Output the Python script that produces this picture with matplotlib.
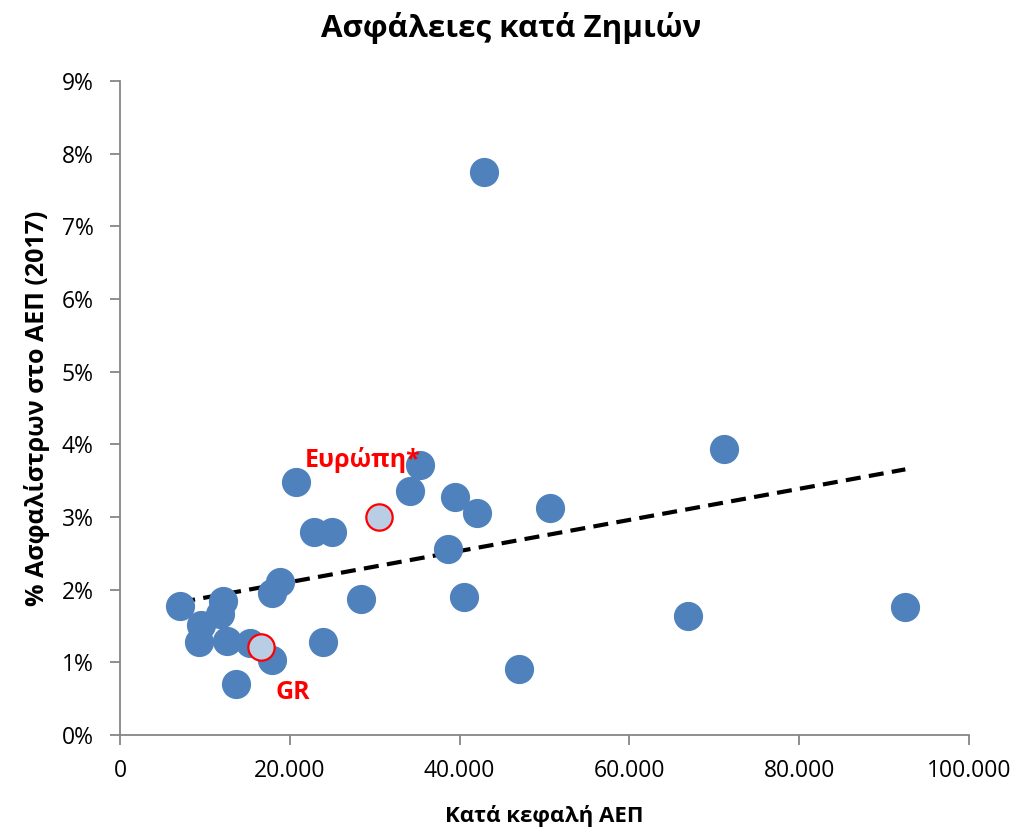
import numpy as np
import matplotlib.pyplot as plt
from matplotlib.ticker import FuncFormatter

plt.rcParams['font.family'] = ['Open Sans', 'DejaVu Sans']

# per-capita GDP (EUR) and premiums as % of GDP
gdp = [7100, 9500, 9300, 12100, 11800, 12600, 13700, 15300, 17900, 17900,
       18800, 20700, 22800, 25000, 23900, 28400, 34200, 35300, 39500, 42000,
       38600, 40500, 47000, 42900, 50600, 66900, 71100, 92500]
premium = [1.78, 1.52, 1.28, 1.85, 1.67, 1.30, 0.70, 1.26, 1.03, 1.95,
           2.11, 3.48, 2.79, 2.79, 1.28, 1.87, 3.36, 3.71, 3.28, 3.06,
           2.56, 1.90, 0.91, 7.75, 3.12, 1.64, 3.94, 1.76]

gr = (16600, 1.21)
europe = (30500, 3.00)

fig = plt.figure(figsize=(10.22, 8.27), dpi=100)
ax = fig.add_axes([120/1022, 92/827, 849/1022, 654/827])

ax.scatter(gdp, premium, s=400, color='#4F81BD', edgecolors='#4F81BD', zorder=3)
ax.scatter([gr[0], europe[0]], [gr[1], europe[1]], s=360, color='#B9CDE5',
           edgecolors='red', linewidths=1.6, zorder=4)

# linear trendline over all points
all_x = gdp + [gr[0], europe[0]]
all_y = premium + [gr[1], europe[1]]
coef = np.polyfit(all_x, all_y, 1)
xs = np.array([min(all_x), max(all_x)])
ax.plot(xs, np.polyval(coef, xs), color='black', lw=3, ls=(0, (3.6, 2)), zorder=2)

ax.text(28600, 3.78, 'Ευρώπη*', color='red', fontsize=18,
        fontweight='bold', ha='center', va='center')
ax.text(20400, 0.58, 'GR', color='red', fontsize=18,
        fontweight='bold', ha='center', va='center')

ax.set_xlim(0, 100000)
ax.set_ylim(0, 9)
ax.set_xticks(np.arange(0, 100001, 20000))
ax.set_yticks(np.arange(0, 10, 1))
ax.xaxis.set_major_formatter(FuncFormatter(lambda v, p: f'{int(v):,}'.replace(',', '.')))
ax.yaxis.set_major_formatter(FuncFormatter(lambda v, p: f'{int(v)}%'))

for side in ['top', 'right']:
    ax.spines[side].set_visible(False)
for side in ['left', 'bottom']:
    ax.spines[side].set_color('#868686')
    ax.spines[side].set_linewidth(1.3)
ax.tick_params(axis='both', colors='#868686', labelcolor='black', labelsize=16.5,
               length=7, width=1.3)
ax.tick_params(axis='x', pad=10)
ax.tick_params(axis='y', pad=12)

ax.set_xlabel('Κατά κεφαλή ΑΕΠ', fontsize=16, fontweight='bold', labelpad=16)
ax.set_ylabel('% Ασφαλίστρων στο ΑΕΠ (2017)', fontsize=18, fontweight='bold', labelpad=8)
fig.suptitle('Ασφάλειες κατά Ζημιών', fontsize=22.5, fontweight='bold',
             y=1 - 28/827, va='center')

fig.savefig('out.png', dpi=100)
